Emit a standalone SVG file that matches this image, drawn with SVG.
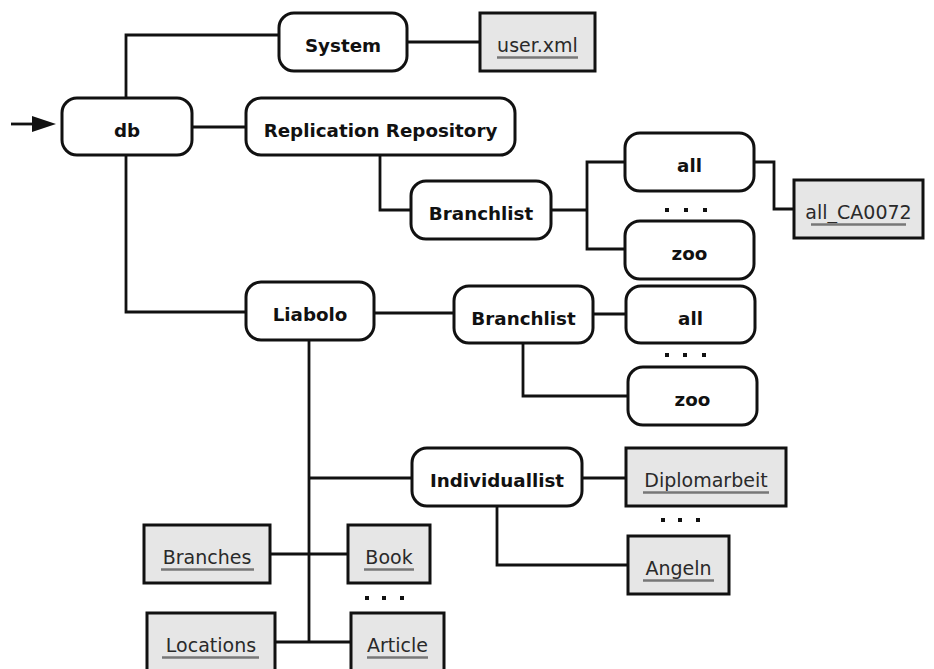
<svg xmlns="http://www.w3.org/2000/svg" width="934" height="669" viewBox="0 0 934 669">
<style>
.n rect{fill:#fff;stroke:#111;stroke-width:3}
.g rect{fill:#e6e6e6;stroke:#111;stroke-width:3}
.n text{font-family:"DejaVu Sans",sans-serif;font-weight:bold;font-size:18.3px;fill:#111;text-anchor:middle}
.g text{font-family:"DejaVu Sans",sans-serif;font-size:19px;fill:#2a2a2a;text-anchor:middle}
.g line{stroke:#777;stroke-width:2.5}
#connectors path{fill:none;stroke:#111;stroke-width:2.8}
.dots rect{fill:#111}
</style>
<rect width="934" height="669" fill="#fff"/>
<g id="connectors">
<path d="M11,124 H40"/>
<polygon points="32,116 56,124 32,132" fill="#111"/>
<path d="M126,98 V35 H279"/>
<path d="M407,42 H480"/>
<path d="M192,127 H246"/>
<path d="M380,155 V210 H411"/>
<path d="M551,210 H587"/>
<path d="M625,162 H587 V249 H625"/>
<path d="M754,162 H774 V209 H794"/>
<path d="M126,155 V312 H246"/>
<path d="M374,313 H454"/>
<path d="M593,314 H626"/>
<path d="M523,343 V396 H628"/>
<path d="M309,340 V642"/>
<path d="M310,478 H412"/>
<path d="M582,478 H626"/>
<path d="M497,506 V565 H628"/>
<path d="M270,554 H348"/>
<path d="M275,642 H351"/>
</g>
<g class="dots">
<rect x="665" y="208" width="4" height="4"/><rect x="684" y="208" width="4" height="4"/><rect x="703" y="208" width="4" height="4"/>
<rect x="665" y="353" width="4" height="4"/><rect x="683" y="353" width="4" height="4"/><rect x="702" y="353" width="4" height="4"/>
<rect x="661" y="518" width="4" height="4"/><rect x="678" y="518" width="4" height="4"/><rect x="696" y="518" width="4" height="4"/>
<rect x="365" y="596" width="4" height="4"/><rect x="382" y="596" width="4" height="4"/><rect x="400" y="596" width="4" height="4"/>
</g>
<g id="db" class="n"><rect x="62" y="98" width="130" height="57" rx="15"/><text x="127" y="136.5">db</text></g>
<g id="system" class="n"><rect x="279" y="13" width="128" height="58" rx="15"/><text x="343" y="52">System</text></g>
<g id="replication" class="n"><rect x="246" y="98" width="269" height="57" rx="15"/><text x="380.5" y="136.5">Replication Repository</text></g>
<g id="branchlist1" class="n"><rect x="411" y="181" width="140" height="58" rx="15"/><text x="481" y="220">Branchlist</text></g>
<g id="all1" class="n"><rect x="625" y="133" width="129" height="58" rx="15"/><text x="689.5" y="172">all</text></g>
<g id="zoo1" class="n"><rect x="625" y="221" width="129" height="58" rx="15"/><text x="689.5" y="260">zoo</text></g>
<g id="liabolo" class="n"><rect x="246" y="282" width="128" height="58" rx="15"/><text x="310" y="321">Liabolo</text></g>
<g id="branchlist2" class="n"><rect x="454" y="286" width="139" height="57" rx="15"/><text x="523.5" y="324.5">Branchlist</text></g>
<g id="all2" class="n"><rect x="626" y="286" width="129" height="57" rx="15"/><text x="690.5" y="324.5">all</text></g>
<g id="zoo2" class="n"><rect x="628" y="367" width="129" height="58" rx="15"/><text x="692.5" y="406">zoo</text></g>
<g id="individuallist" class="n"><rect x="412" y="448" width="170" height="58" rx="15"/><text x="497" y="487">Individuallist</text></g>
<g id="userxml" class="g"><rect x="480" y="13" width="115" height="58"/><text x="537.5" y="52">user.xml</text><line x1="497" y1="57.5" x2="578" y2="57.5"/></g>
<g id="allca" class="g"><rect x="794" y="180" width="129" height="58"/><text x="858.5" y="219">all_CA0072</text><line x1="811" y1="224.5" x2="906" y2="224.5"/></g>
<g id="diplomarbeit" class="g"><rect x="626" y="448" width="160" height="58"/><text x="706" y="487">Diplomarbeit</text><line x1="643" y1="492.5" x2="769" y2="492.5"/></g>
<g id="angeln" class="g"><rect x="628" y="536" width="101" height="58"/><text x="678.5" y="575">Angeln</text><line x1="643" y1="580.5" x2="714" y2="580.5"/></g>
<g id="branches" class="g"><rect x="144" y="525" width="126" height="58"/><text x="207" y="564">Branches</text><line x1="161" y1="569.5" x2="254" y2="569.5"/></g>
<g id="book" class="g"><rect x="348" y="525" width="82" height="58"/><text x="389" y="564">Book</text><line x1="364" y1="569.5" x2="414" y2="569.5"/></g>
<g id="locations" class="g"><rect x="147" y="613" width="128" height="58"/><text x="211" y="652">Locations</text><line x1="162" y1="657.5" x2="259" y2="657.5"/></g>
<g id="article" class="g"><rect x="351" y="613" width="93" height="58"/><text x="397.5" y="652">Article</text><line x1="367" y1="657.5" x2="428" y2="657.5"/></g>
</svg>
